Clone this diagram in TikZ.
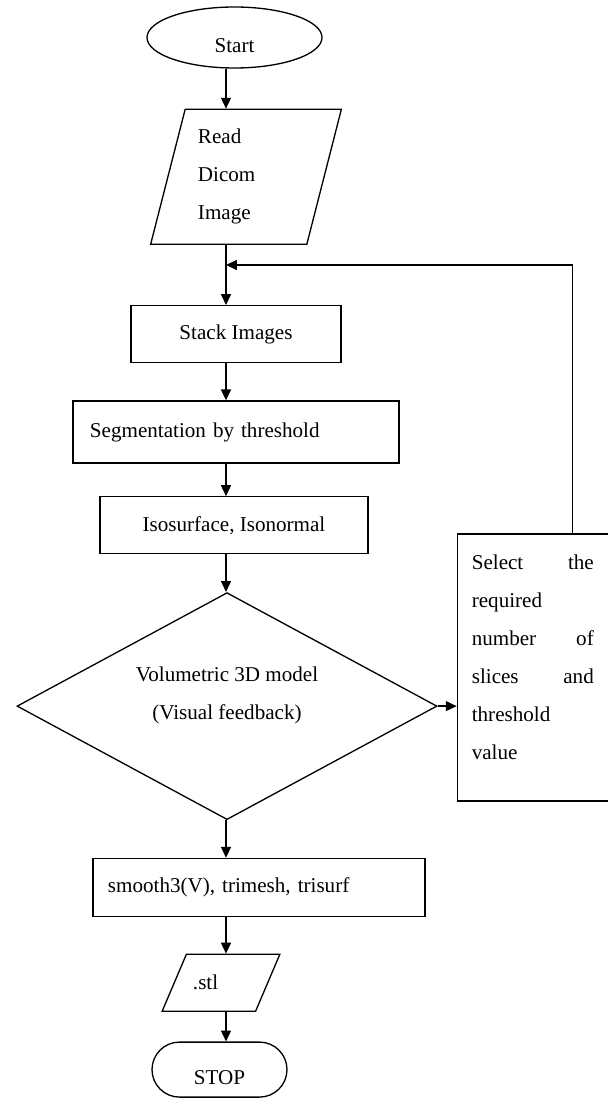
\documentclass[tikz,border=0pt]{standalone}
\usepackage{fontspec}
\setmainfont{Liberation Serif}
\usepackage{tikz}
\usetikzlibrary{positioning}
\usetikzlibrary{arrows.meta}
\usetikzlibrary{shapes.geometric}
\tikzset{tips=proper}
\tikzset{%
    process/.style={rectangle, draw, line width=0.75pt, inner sep=0pt},
    io/.style={trapezium, draw, line width=0.75pt, trapezium stretches=true, inner sep=0pt},
    terminal/.style={ellipse, draw, line width=0.75pt, inner sep=0pt},
    stopbox/.style={rectangle, rounded corners=0.55cm, draw, line width=0.75pt, inner sep=0pt},
    decision/.style={diamond, aspect=1.85, draw, line width=0.75pt, inner sep=0pt},
    arrow/.style={draw, line width=0.75pt, -{Triangle[length=6.2pt,width=5.7pt]}}
}

\begin{document}
\begin{tikzpicture}
		\tikzstyle{every node}=[font=\fontsize{12pt}{21.6pt}\selectfont]

		\useasboundingbox (-4.69,0.75) rectangle (7.47,-21.25);

		\node[terminal,minimum width=3.5cm,minimum height=1.22cm,text height=0.59cm,text depth=0pt]	(start)	at (0,0)	{Start};
		\node[io,trapezium left angle=74,trapezium right angle=106,minimum width=3.84cm,minimum height=2.7cm,text width=1.92cm,align=left]	(read)	[below=0.8cm of start,xshift=0.23cm]	{Read\\Dicom\\Image};
		\node[process,minimum width=4.2cm,minimum height=1.14cm]	(stack)	[below=1.2cm of read,xshift=-0.2cm]	{Stack Images};
		\node[process,minimum width=6.52cm,minimum height=1.24cm,text width=5.84cm,align=left]	(seg)	[below=0.74cm of stack]	{Segmentation by threshold};
		\node[process,minimum width=5.36cm,minimum height=1.14cm]	(iso)	[below=0.65cm of seg,xshift=-0.04cm]	{Isosurface, Isonormal};
		\node[decision,minimum width=8.4cm,minimum height=4.54cm]	(model)	[below=0.75cm of iso,xshift=-0.14cm]	{\begin{tabular}{@{}c@{}}Volumetric 3D model\\(Visual feedback)\\[0.52cm]\end{tabular}};
		\node[process,minimum width=3.02cm,minimum height=5.34cm]	(select)	[right=0.38cm of model,yshift=0.77cm]	{\parbox[c][4.5cm][t]{2.44cm}{Select\hfill the\\required\\number\hfill of\\slices\hfill and\\threshold\\value}};
		\node[process,minimum width=6.64cm,minimum height=1.16cm,text width=6.04cm,align=left]	(smooth)	[below=0.75cm of model,xshift=0.64cm]	{smooth3(V), trimesh, trisurf};
		\node[io,trapezium left angle=71,trapezium right angle=109,minimum width=2.36cm,minimum height=1.14cm,text width=1.12cm,text height=0.7cm,text depth=0.44cm,align=left]	(stl)	[below=0.73cm of smooth,xshift=-0.76cm]	{.stl};
		\node[stopbox,minimum width=2.7cm,minimum height=1.1cm,text height=0.59cm,text depth=0pt]	(stop)	[below=0.59cm of stl,xshift=-0.03cm]	{STOP};

		\coordinate (spine) at (-0.17,0);
		\path ([xshift=0.79cm]select.north) coordinate (fbx);
		\path ([yshift=-0.4cm]read.south) coordinate (fby);

		\path[arrow]
		(start.south -| spine)	edge	(read.north -| spine)
		(read.south -| spine)	edge	(stack.north -| spine)
		(stack.south -| spine)	edge	(seg.north -| spine)
		(seg.south -| spine)	edge	(iso.north -| spine)
		(iso.south -| spine)	edge	(model.north -| spine)
		(model.south -| spine)	edge	(smooth.north -| spine)
		(smooth.south -| spine)	edge	(stl.north -| spine)
		(stl.south -| spine)	edge	(stop.north -| spine)
		(model.east)	edge	(select.west |- model.east);
		\draw[arrow] (fbx) |- (fby -| spine);
	\end{tikzpicture}
\end{document}
